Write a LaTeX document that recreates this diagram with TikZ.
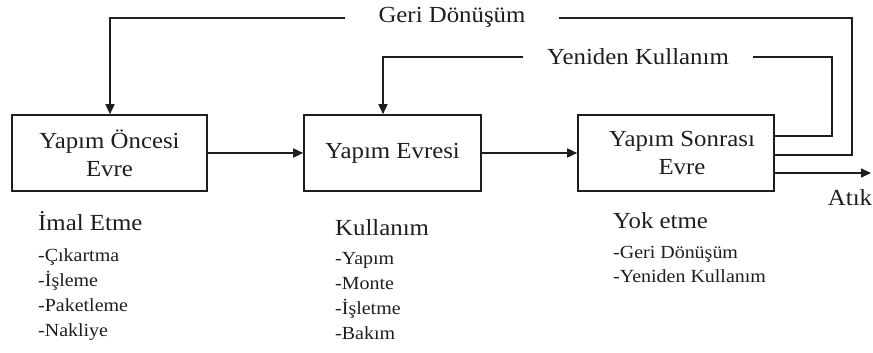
\documentclass[tikz,border=0pt]{standalone}
\usepackage{fontspec}
\setmainfont{Liberation Serif}[FakeStretch=1.08]
\usetikzlibrary{arrows.meta}
\definecolor{ink}{RGB}{30,30,30}
\tikzset{
  box/.style={draw=ink, line width=1.6pt, rectangle, minimum height=76pt, inner sep=0pt,
    align=center, font=\fontsize{23}{28}\selectfont, text=ink},
  conn/.style={draw=ink, line width=1.6pt},
  arr/.style={conn, -{Triangle[length=10pt,width=9pt]}},
  lbl/.style={font=\fontsize{23}{28}\selectfont, text=ink, inner ysep=0pt},
  ttl/.style={font=\fontsize{23}{28}\selectfont, text=ink, anchor=base west, inner sep=0pt},
  itm/.style={font=\fontsize{18.5}{22}\selectfont, text=ink, anchor=base west, inner sep=0pt}
}
\begin{document}
\begin{tikzpicture}[x=1pt,y=-1pt]
\useasboundingbox (0,0) rectangle (873,353);
% boxes
\node[box, minimum width=195pt] (b1) at (109.5,153) {Yapım Öncesi\\Evre};
\node[box, minimum width=177pt] (b2) at (392.5,153) {Yapım Evresi};
\node[box, minimum width=196pt] (b3) at (676,153) {\hspace*{12pt}Yapım Sonrası\\\hspace*{12pt}Evre};
% top labels
\node[lbl, inner xsep=33pt] (gd) at (452,17) {Geri Dönüşüm};
\node[lbl, inner xsep=24pt] (yk) at (638,57) {Yeniden Kullanım};
% coordinates
\coordinate (g1) at (852,155);
\coordinate (g2) at (852,18);
\coordinate (g3) at (110,18);
\coordinate (y1) at (832,136);
\coordinate (y2) at (832,57);
\coordinate (y3) at (383,57);
\coordinate (atk) at (871,173);
% main flow
\draw[arr] (b1.east) -- (b2.west);
\draw[arr] (b2.east) -- (b3.west);
% Geri Dönüşüm loop
\draw[conn] (b3.east |- g1) -- (g1) -- (g2) -- (gd.east |- g2);
\draw[arr] (gd.west |- g3) -- (g3) -- (g3 |- b1.north);
% Yeniden Kullanım loop
\draw[conn] (b3.east |- y1) -- (y1) -- (y2) -- (yk.east |- y2);
\draw[arr] (yk.west |- y3) -- (y3) -- (y3 |- b2.north);
% waste
\draw[arr] (b3.east |- atk) -- (atk);
\node[lbl, anchor=base] (atik) at (850,205) {Atık};
% lists
\node[ttl] (t1) at (38,230) {İmal Etme};
\node[itm] (t1a) at (38,261) {-Çıkartma};
\node[itm] (t1b) at (38,286) {-İşleme};
\node[itm] (t1c) at (38,311) {-Paketleme};
\node[itm] (t1d) at (38,336) {-Nakliye};
\node[ttl] (t2) at (335,235) {Kullanım};
\node[itm] (t2a) at (335,264) {-Yapım};
\node[itm] (t2b) at (335,289) {-Monte};
\node[itm] (t2c) at (335,314) {-İşletme};
\node[itm] (t2d) at (335,339) {-Bakım};
\node[ttl] (t3) at (613,228) {Yok etme};
\node[itm] (t3a) at (613,258) {-Geri Dönüşüm};
\node[itm] (t3b) at (613,282) {-Yeniden Kullanım};
\end{tikzpicture}
\end{document}
